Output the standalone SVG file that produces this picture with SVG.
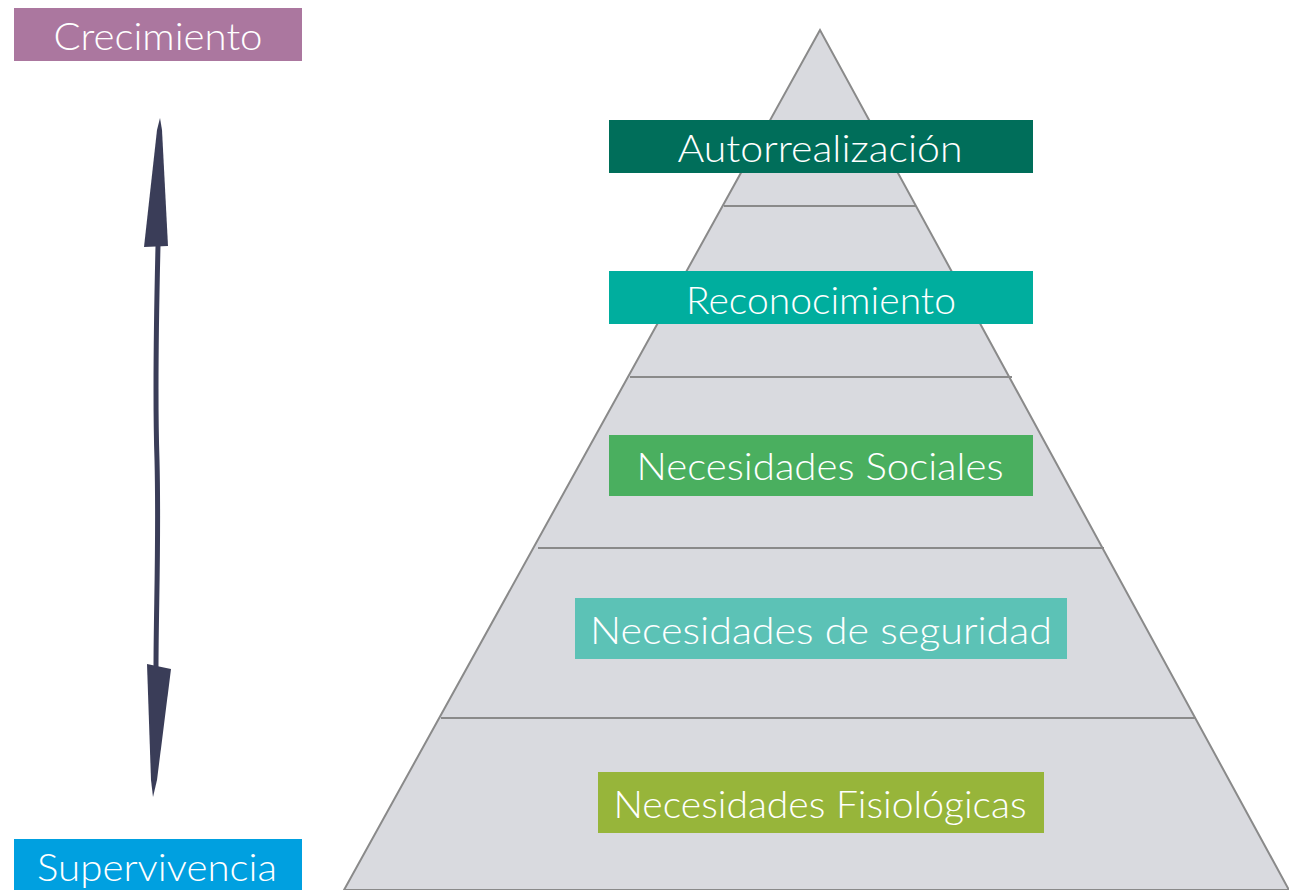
<svg xmlns="http://www.w3.org/2000/svg" width="1289" height="890" viewBox="0 0 1289 890">
<style>
.lbl{font-family:"Lato","Open Sans","Liberation Sans",sans-serif;font-weight:300;fill:#ffffff;text-anchor:middle;}
.tier{stroke:#8a8a8a;stroke-width:2;fill:none;}
.arrow{fill:#3a3d58;}
.shaft{fill:none;stroke:#3a3d58;stroke-width:5;stroke-linecap:butt;}
</style>
<rect width="1289" height="890" fill="#ffffff"/>
<g id="pyramid">
<polygon points="820,30 344,890 1289,890" fill="#d9dadf" stroke="#8a8a8a" stroke-width="2"/>
<line class="tier" x1="724" y1="206" x2="916" y2="206"/>
<line class="tier" x1="630" y1="377" x2="1012" y2="377"/>
<line class="tier" x1="538" y1="548" x2="1104" y2="548"/>
<line class="tier" x1="441" y1="718" x2="1196" y2="718"/>
</g>
<g id="connectors">
<path class="arrow" d="M160,118 L162,130 L168,246 L144,247 L157,130 Z"/>
<path class="shaft" d="M158,246 C156,330 155,400 157,460 C159,540 156,610 156,668"/>
<path class="arrow" d="M147,664 L171,669 L157,780 L153,797 L151,780 Z"/>
</g>
<g id="crecimiento">
<rect x="14" y="8" width="288" height="53" fill="#ab779f"/>
<text class="lbl" x="158" y="50" font-size="37" textLength="209" lengthAdjust="spacingAndGlyphs">Crecimiento</text>
</g>
<g id="supervivencia">
<rect x="14" y="839" width="288" height="51" fill="#00a0e0"/>
<text class="lbl" x="157" y="881" font-size="37" textLength="240" lengthAdjust="spacingAndGlyphs">Supervivencia</text>
</g>
<g id="autorrealizacion">
<rect x="609" y="120" width="424" height="53" fill="#006e5a"/>
<text class="lbl" x="820" y="162" font-size="37" textLength="285" lengthAdjust="spacingAndGlyphs">Autorrealización</text>
</g>
<g id="reconocimiento">
<rect x="609" y="271" width="424" height="53" fill="#00ae9e"/>
<text class="lbl" x="821" y="314" font-size="37" textLength="270" lengthAdjust="spacingAndGlyphs">Reconocimiento</text>
</g>
<g id="sociales">
<rect x="609" y="435" width="424" height="61" fill="#4aaf5f"/>
<text class="lbl" x="820" y="480" font-size="37" textLength="367" lengthAdjust="spacingAndGlyphs">Necesidades Sociales</text>
</g>
<g id="seguridad">
<rect x="575" y="598" width="492" height="61" fill="#5cc2b6"/>
<text class="lbl" x="821" y="644" font-size="37" textLength="462" lengthAdjust="spacingAndGlyphs">Necesidades de seguridad</text>
</g>
<g id="fisiologicas">
<rect x="598" y="772" width="446" height="61" fill="#97b53a"/>
<text class="lbl" x="820" y="818" font-size="37" textLength="413" lengthAdjust="spacingAndGlyphs">Necesidades Fisiológicas</text>
</g>
</svg>
